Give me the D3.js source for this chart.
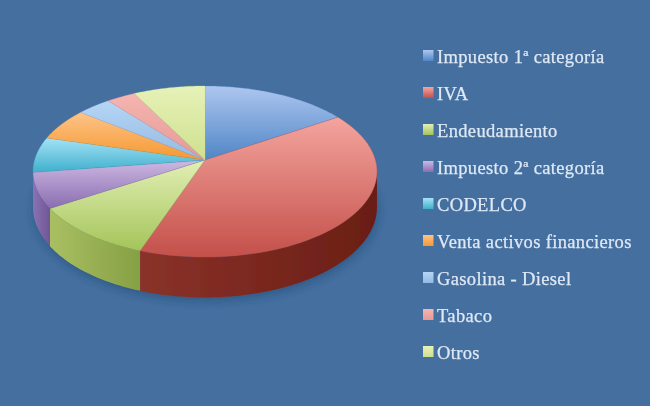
<!DOCTYPE html>
<html><head><meta charset="utf-8">
<script src="https://cdnjs.cloudflare.com/ajax/libs/d3/7.8.5/d3.min.js"></script>
<style>html,body{margin:0;padding:0;background:#446f9f;overflow:hidden}svg{display:block}</style>
</head><body><div id="c"></div>
<script>
const categories=["Impuesto 1ª categoría","IVA","Endeudamiento","Impuesto 2ª categoría","CODELCO","Venta activos financieros","Gasolina - Diesel","Tabaco","Otros"];
const values=[15.8,39.6,10.6,6.7,6.7,6.1,3.7,3.1,7.7];
const colorsLight=["#aec6f0","#f4a49e","#e2efb4","#cdb8e2","#a5e2f6","#fcc48a","#b5d6f5","#f5b5b0","#e6f2b8"];
const colorsDark=["#4f86c6","#c4504a","#a4c45a","#8a6db0","#3fb0cc","#f7982f","#95b9e2","#e59a96","#cfe08e"];
const wallColors=[["#3f6ba0","#3f6ba0"],["#8a3229","#6a1e15"],["#a9bf62","#86a044"],["#8b72b4","#6f5696"],["#2f8fa8","#2f8fa8"],["#c87820","#c87820"],["#7c9cc4","#7c9cc4"],["#b87c78","#b87c78"],["#a8bc70","#a8bc70"]];

const W=650,H=406,cx=205,cy=160,A=84,B=170.4,k=0.1345,depth=35;
const svg=d3.select("#c").append("svg").attr("width",W).attr("height",H);
svg.append("rect").attr("width",W).attr("height",H).attr("fill","#446f9f");
const defs=svg.append("defs");
defs.append("filter").attr("id","soft").append("feGaussianBlur").attr("stdDeviation",0.45);
const shF=defs.append("filter").attr("id","shadow").attr("x","-20%").attr("y","-20%").attr("width","140%").attr("height","140%");
shF.append("feGaussianBlur").attr("stdDeviation",4);

// perspective projection of a point of the unit disk; angle clockwise from 12 o'clock
function proj(a,r,drop){
  const u=r*Math.sin(a),v=-r*Math.cos(a),w=1-k*v;
  return [cx+B*u/w,cy+A*v/w+(drop?depth/w:0)];
}
const line=d3.line();
const range=(a0,a1)=>d3.range(0,61).map(i=>a0+(a1-a0)*i/60);
const pie=d3.pie().sort(null).value(d=>d)(values);
const root=svg.append("g").attr("filter","url(#soft)");

// soft shadow under the pie
root.append("path").attr("fill","#23456e").attr("opacity",0.55).attr("filter","url(#shadow)")
  .attr("transform","translate(1,3)")
  .attr("d",line(range(0,2*Math.PI).map(a=>proj(a,1,true)))+"Z");

// walls
const vis0=Math.acos(-k),vis1=2*Math.PI-vis0;
pie.forEach((s,i)=>{
  const a0=Math.max(s.startAngle,vis0),a1=Math.min(s.endAngle,vis1);
  if(a1<=a0)return;
  const id="w"+i,g=defs.append("linearGradient").attr("id",id);
  g.append("stop").attr("offset","0").attr("stop-color",wallColors[i][0]);
  g.append("stop").attr("offset","1").attr("stop-color",wallColors[i][1]);
  const top=range(a0,a1).map(a=>proj(a,1,false)),bot=range(a1,a0).map(a=>proj(a,1,true));
  root.append("path").attr("fill",`url(#${id})`).attr("d",line(top.concat(bot))+"Z");
});

// top faces
pie.forEach((s,i)=>{
  const id="t"+i,g=defs.append("linearGradient").attr("id",id).attr("x1",0).attr("y1",0).attr("x2",0).attr("y2",1);
  g.append("stop").attr("offset","0").attr("stop-color",colorsLight[i]);
  g.append("stop").attr("offset","1").attr("stop-color",colorsDark[i]);
  root.append("path").attr("fill",`url(#${id})`)
    .attr("stroke",colorsDark[i]).attr("stroke-width",0.3)
    .attr("d",line([proj(0,0,false)].concat(range(s.startAngle,s.endAngle).map(a=>proj(a,1,false))))+"Z");
});

// legend
const yS=d3.scalePoint().domain(categories).range([57,353]);
const leg=root.selectAll("g.l").data(categories).join("g").attr("class","l")
  .attr("transform",d=>`translate(0,${yS(d)})`);
leg.each(function(d,i){
  const id="l"+i,g=defs.append("linearGradient").attr("id",id).attr("x1",0).attr("y1",0).attr("x2",0).attr("y2",1);
  g.append("stop").attr("offset","0").attr("stop-color",colorsLight[i]);
  g.append("stop").attr("offset","1").attr("stop-color",colorsDark[i]);
  d3.select(this).append("rect").attr("x",423).attr("y",-7).attr("width",10.5).attr("height",11).attr("fill",`url(#${id})`);
});
leg.append("text").attr("x",437).attr("y",6).attr("fill","#dfe9f6")
  .attr("font-family","'Liberation Serif',serif").attr("font-size",18.5).attr("letter-spacing",0.35)
  .attr("stroke","#dfe9f6").attr("stroke-width",0.25).text(d=>d);
</script></body></html>
